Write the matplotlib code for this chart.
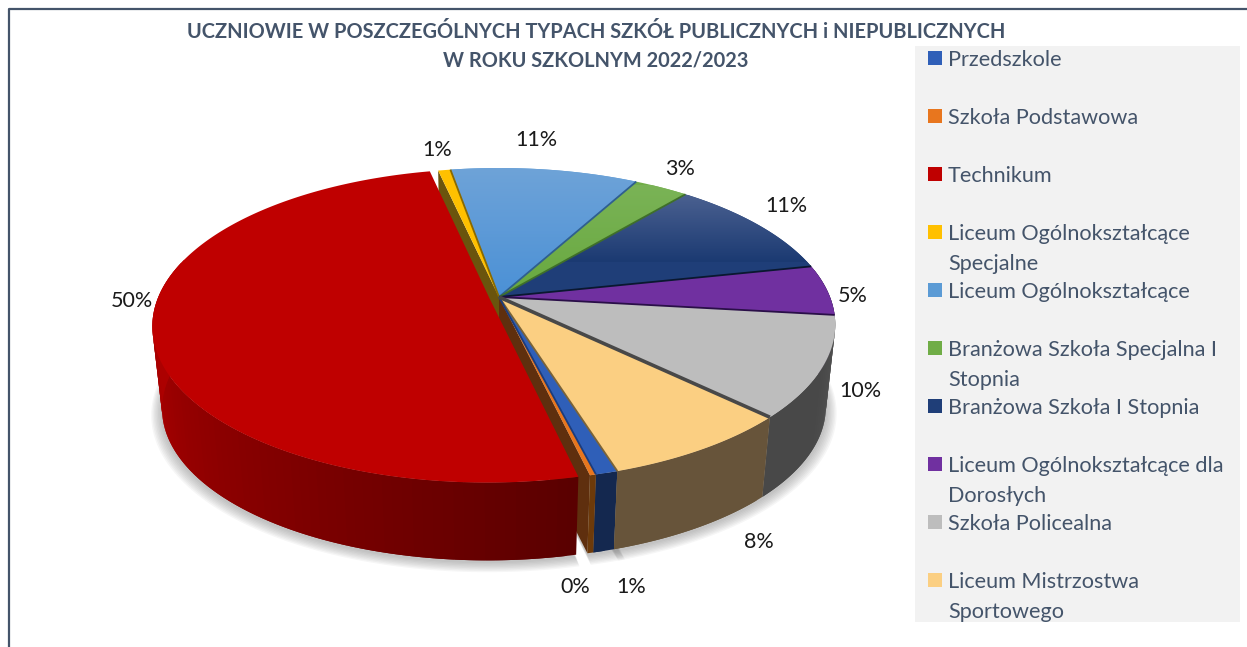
import numpy as np
import matplotlib
matplotlib.use("Agg")
import matplotlib.pyplot as plt
from matplotlib.colors import LinearSegmentedColormap, to_rgb
from matplotlib.patches import Rectangle

title = "UCZNIOWIE W POSZCZEGÓLNYCH TYPACH SZKÓŁ PUBLICZNYCH i NIEPUBLICZNYCH\nW ROKU SZKOLNYM 2022/2023"
categories = ["Przedszkole", "Szkoła Podstawowa", "Technikum",
              "Liceum Ogólnokształcące\nSpecjalne", "Liceum Ogólnokształcące",
              "Branżowa Szkoła Specjalna I\nStopnia", "Branżowa Szkoła I Stopnia",
              "Liceum Ogólnokształcące dla\nDorosłych", "Szkoła Policealna",
              "Liceum Mistrzostwa\nSportowego"]
values = [0.9, 0.25, 50.2, 0.7, 10.7, 3.1, 10.6, 5.2, 10.4, 7.95]

top_colors = ["#2f5fb8", "#e8761e", "#bf0000", "#ffc000", "#5b9bd5",
              "#70ad47", "#1f3e78", "#7030a0", "#bdbdbd", "#fbcf82"]
wall_start = ["#14284f", "#6d3a0a", "#5a0000", "#6e5a0e", "#2b4a66",
              "#35521f", "#0d1d3c", "#2d1247", "#555555", "#67543a"]
wall_end = ["#14284f", "#6d3a0a", "#ac0000", "#6e5a0e", "#2b4a66",
            "#35521f", "#0d1d3c", "#2d1247", "#484848", "#67543a"]
line_colors = ["#1c3c7c", "#b85a10", "#8a0000", "#8a6a00", "#2f5f8f",
               "#3f6f2a", "#0a1830", "#2a0f48", "#484848", "#7a6338"]
label_xy = [(631, 587), (575, 587), (132, 301), (437, 150), (536, 140),
            (680, 169), (786, 206), (853, 296), (860, 391), (759, 542)]

# vue en perspective du camembert (pixels de l'image)
cx, cy = 499, 297
rx, ry = 331, 151.7
persp = 0.176
depth = 83
shrink = 0.972
first_angle = -17.3
explode_red = 0.03
INK = "#44546a"

plt.rcParams["font.family"] = ["Lato", "DejaVu Sans"]


def project(a, r=1.0, level=0, shift=(0, 0)):
    a = np.radians(np.asarray(a, dtype=float))
    u = -np.sin(a) * r + shift[0]
    v = np.cos(a) * r + shift[1]
    s = 1 / (1 - persp * v)
    if level == 0:
        return cx + rx * u * s, cy + ry * v * s
    return cx + shrink * rx * u * s, cy + depth + shrink * ry * v * s


def sector(a1, a2, shift, r=1.0, level=0):
    arc = np.linspace(a1, a2, max(int(a2 - a1) * 2, 4))
    x, y = project(arc, r, level, shift)
    x0, y0 = project(0, 0, level, shift)
    return np.r_[x0, x], np.r_[y0, y]


def draw_shadow(ax, a1, a2, shift):
    for k in range(8):
        x, y = sector(a1, a2, shift, 1.004 + k * 0.004, 1)
        ax.fill(x, y + 2 + k * 0.4, color="#808080", alpha=0.07, lw=0, zorder=1)


def draw_cut(ax, angle, color):
    xt, yt = project([0, angle], [0, 1])
    xb, yb = project([0, angle], [0, 1], 1)
    ax.fill(np.r_[xt, xb[::-1]], np.r_[yt, yb[::-1]], color=color, lw=0, zorder=2)


def draw_wall(ax, a1, a2, c1, c2, shift):
    c1, c2 = np.array(to_rgb(c1)), np.array(to_rgb(c2))
    steps = np.arange(a1, a2 + 1.5, 1.5)
    steps[-1] = a2
    for p, q in zip(steps[:-1], steps[1:]):
        if np.cos(np.radians((p + q) / 2)) < -0.25:
            continue
        # chaque bande recouvre la suivante pour eviter les raies
        arc = np.linspace(p, min(q + 1.5, a2), 4)
        xt, yt = project(arc, 1, 0, shift)
        xb, yb = project(arc, 1, 1, shift)
        t = (p - a1) / max(a2 - a1, 1e-6)
        col = c1 + (c2 - c1) * min(t * 1.9, 1)
        ax.fill(np.r_[xt, xb[::-1]], np.r_[yt, yb[::-1]], color=col, lw=0, zorder=3)


def gradient_top(ax, poly, c_up, c_down, y1, y2):
    cmap = LinearSegmentedColormap.from_list("g", [c_up, c_down])
    grad = np.linspace(0, 1, 128).reshape(-1, 1)
    im = ax.imshow(grad, cmap=cmap, extent=(0, 1247, y2, y1), aspect="auto", zorder=4.1)
    im.set_clip_path(poly)


def main():
    fig = plt.figure(figsize=(12.47, 6.47), dpi=100)
    ax = fig.add_axes([0, 0, 1, 1])

    ax.add_patch(Rectangle((915, 46), 325, 576, fc="#f2f2f2", ec="none", zorder=0))
    ax.plot([1247, 9, 9], [9, 9, 647], color=INK, lw=1.6, zorder=0.5)

    total = sum(values)
    spans = [v / total * 360 for v in values]
    starts = first_angle + np.r_[0, np.cumsum(spans)[:-1]]
    ends = starts + np.array(spans)
    red = categories.index("Technikum")
    mid = np.radians((starts[red] + ends[red]) / 2)
    red_shift = (-np.sin(mid) * explode_red, np.cos(mid) * explode_red)

    draw_shadow(ax, starts[red], ends[red], red_shift)
    draw_shadow(ax, ends[red], starts[red] + 360 - spans[0] - spans[1], (0, 0))
    draw_shadow(ax, starts[0] - 1, starts[red], (0, 0))

    # parois visibles a cause de la part detachee
    draw_cut(ax, starts[red], "#5f2f0e")
    draw_cut(ax, ends[red], "#6a540d")

    for i in range(len(values)):
        shift = red_shift if i == red else (0, 0)
        draw_wall(ax, starts[i], ends[i], wall_start[i], wall_end[i], shift)
    for i in range(len(values)):
        shift = red_shift if i == red else (0, 0)
        x, y = sector(starts[i], ends[i], shift)
        poly = ax.fill(x, y, color=top_colors[i], lw=0, zorder=4)[0]
        if categories[i] == "Liceum Ogólnokształcące":
            gradient_top(ax, poly, "#6ea3d8", "#4a90d6", 168, 300)
        if categories[i] == "Branżowa Szkoła I Stopnia":
            gradient_top(ax, poly, "#4a6090", "#1b3a72", 195, 262)
        if categories[i] == "Branżowa Szkoła Specjalna I\nStopnia":
            gradient_top(ax, poly, "#7ab356", "#67a83e", 185, 300)

    for i in range(len(values)):
        if i == red or i == red + 1:
            continue
        xl, yl = project([0, starts[i]], [0, 1])
        lw = 2.6 if categories[i] == "Liceum Mistrzostwa\nSportowego" else 1.3
        ax.plot(xl, yl, color=line_colors[i - 1], lw=lw, solid_capstyle="butt", zorder=5)

    for v, (lx, ly) in zip(values, label_xy):
        ax.text(lx, ly, f"{round(v)}%", ha="center", va="center", fontsize=15.5,
                color="#1a1a1a", zorder=6)

    line1, line2 = title.split("\n")
    ax.text(596, 31.5, line1, ha="center", va="center", fontsize=14.45, fontweight="bold", color=INK)
    ax.text(596, 60.5, line2, ha="center", va="center", fontsize=14.45, fontweight="bold", color=INK)

    for i, name in enumerate(categories):
        yy = 58 + i * 58
        ax.add_patch(Rectangle((928, yy - 7), 14, 14, fc=top_colors[i], ec="none", zorder=2))
        for j, part in enumerate(name.split("\n")):
            ax.text(948, yy + 1.5 + j * 30, part, ha="left", va="center", fontsize=15.6, color=INK)

    ax.set_xlim(0, 1247)
    ax.set_ylim(647, 0)
    ax.axis("off")
    fig.savefig("out.png", dpi=100, facecolor="white")


if __name__ == "__main__":
    main()
